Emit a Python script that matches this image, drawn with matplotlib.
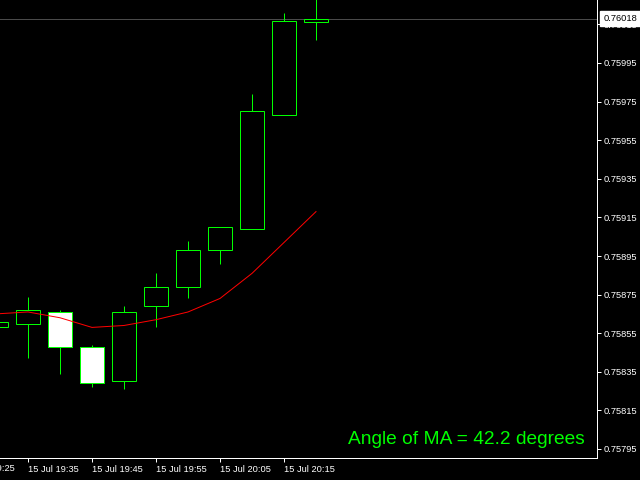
import numpy as np
import matplotlib
matplotlib.use('Agg')
import matplotlib.pyplot as plt
from matplotlib.transforms import blended_transform_factory

# 5 minute bars, 15 Jul
times  = ['19:30', '19:35', '19:40', '19:45', '19:50', '19:55',
          '20:00', '20:05', '20:10', '20:15', '20:20']
opens  = [0.75858, 0.75860, 0.75866, 0.75848, 0.75830, 0.75869,
          0.75879, 0.75898, 0.75909, 0.75968, 0.76016]
highs  = [0.75864, 0.75874, 0.75867, 0.75849, 0.75869, 0.75886,
          0.75903, 0.75910, 0.75979, 0.76021, 0.76030]
lows   = [0.75855, 0.75842, 0.75834, 0.75827, 0.75826, 0.75858,
          0.75873, 0.75891, 0.75909, 0.75968, 0.76007]
closes = [0.75861, 0.75867, 0.75848, 0.75829, 0.75866, 0.75879,
          0.75898, 0.75910, 0.75970, 0.76017, 0.76018]
ma     = [0.75865, 0.75866, 0.75863, 0.75858, 0.75859, 0.75862,
          0.75866, 0.75873, 0.75886, 0.75902, 0.75918]

price_ticks = np.round(np.arange(0.75795, 0.76016, 0.0002), 5)
time_ticks = [1, 3, 5, 7, 9]
time_labels = ['15 Jul 19:35', '15 Jul 19:45', '15 Jul 19:55',
               '15 Jul 20:05', '15 Jul 20:15']
angle_text = 'Angle of MA = 42.2 degrees'

GREEN = '#00ff00'
px = 0.72  # one pixel in points at 100 dpi
small_font = 'Liberation Sans'
small_size = 6.7

fig = plt.figure(figsize=(6.4, 4.8), dpi=100, facecolor='black')
ax = fig.add_axes([0, 22 / 480, 597 / 640, 458 / 480], facecolor='black')

idx = np.arange(len(times))
o = np.array(opens)
c = np.array(closes)
bull = c >= o

# wicks then bodies (bull = black body, bear = white body)
ax.vlines(idx, lows, highs, color=GREEN, lw=px, zorder=2)
ax.bar(idx, np.abs(c - o), bottom=np.minimum(o, c), width=0.75,
       color=np.where(bull, 'black', 'white'), edgecolor=GREEN,
       linewidth=px, zorder=3)

ax.plot(idx, ma, color='red', lw=px, zorder=4)

# bid line + price box
ax.axhline(closes[-1], color='#4a4a4a', lw=px, zorder=1)
trans = blended_transform_factory(ax.transAxes, ax.transData)
ax.text(1.011, closes[-1], f'{closes[-1]:.5f}', transform=trans,
        va='center', ha='left', color='black', fontsize=small_size,
        family=small_font, clip_on=False, zorder=10,
        bbox=dict(boxstyle='square,pad=0.35', facecolor='white',
                  edgecolor='white'))

ax.set_xlim(0.125, 0.125 + 597 / 32)
ax.set_ylim(0.75795 - 9 / 193000, 0.75795 + 449 / 193000)

ax.yaxis.tick_right()
ax.set_yticks(price_ticks)
ax.set_yticklabels([f'{p:.5f}' for p in price_ticks])
ax.set_xticks(time_ticks)
ax.set_xticklabels(time_labels, ha='left')
ax.tick_params(colors='white', length=3, width=px, pad=2,
               labelsize=small_size)
for lab in ax.get_xticklabels() + ax.get_yticklabels():
    lab.set_family(small_font)

# the 19:25 label that runs off the left edge
ax.text(-1, -0.0125, '15 Jul 19:25',
        transform=blended_transform_factory(ax.transData, ax.transAxes),
        ha='left', va='top', color='white', fontsize=small_size,
        family=small_font, clip_on=False)

for side in ['left', 'top']:
    ax.spines[side].set_visible(False)
for side in ['right', 'bottom']:
    ax.spines[side].set_color('white')
    ax.spines[side].set_linewidth(px)

fig.text(348 / 640, 1 - 444 / 480, angle_text, color=GREEN,
         fontsize=13.8, family='Liberation Sans', ha='left', va='baseline')

fig.savefig('out.png', dpi=100, facecolor='black')
